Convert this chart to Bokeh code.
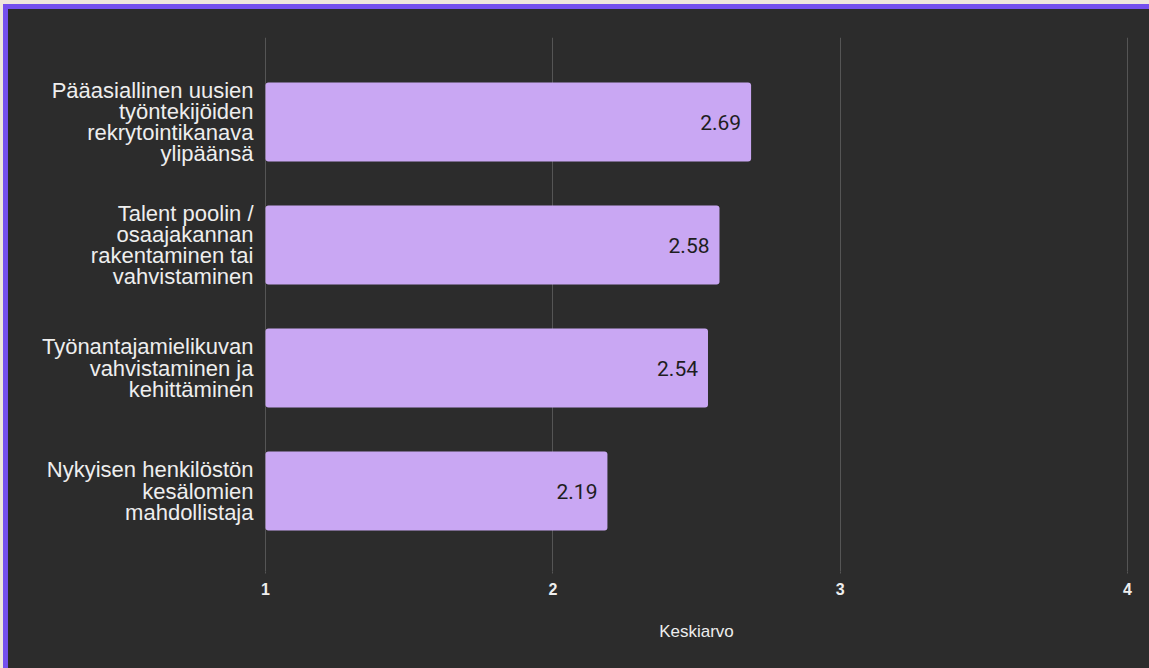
from bokeh.plotting import figure
from bokeh.models import Range1d, FixedTicker, ColumnDataSource, Column
from bokeh.core.properties import value
from bokeh.embed import file_html
from bokeh.resources import INLINE

categories = [
    "Pääasiallinen uusien\ntyöntekijöiden\nrekrytointikanava\nylipäänsä",
    "Talent poolin /\nosaajakannan\nrakentaminen tai\nvahvistaminen",
    "Työnantajamielikuvan\nvahvistaminen ja\nkehittäminen",
    "Nykyisen henkilöstön\nkesälomien\nmahdollistaja",
]
values = [2.69, 2.58, 2.54, 2.19]
value_labels = ["2.69", "2.58", "2.54", "2.19"]
x_ticks = [1, 2, 3, 4]
x_title = "Keskiarvo"

BG = "#2c2c2c"
BAR = "#c9a7f3"
BORDER = "#7550ee"
GRID = "#555555"
FONT = "Liberation Sans"
XPAD = 0.007  # small padding so edge grid lines are not clipped

n = len(categories)
ypos = [n - 1 - i for i in range(n)]  # first category at the top
src = ColumnDataSource(dict(y=ypos, val=values, lab=value_labels))

p = figure(
    width=1146, height=664,
    y_range=Range1d(-0.654, 3.687),
    x_range=Range1d(x_ticks[0] - XPAD, x_ticks[-1] + XPAD),
    output_backend="svg", toolbar_location=None,
    background_fill_color=BG, border_fill_color=BG,
    min_border_left=255, min_border_right=25, min_border_top=28, min_border_bottom=102,
    outline_line_color=None,
)
p.styles = {"margin-left": "3px", "margin-top": "4px", "background-color": BG,
            "border-left": "5px solid " + BORDER, "border-top": "5px solid " + BORDER}

p.hbar(y="y", left=x_ticks[0], right="val", height=0.642, source=src,
       fill_color=BAR, line_color=None, border_radius=3)
p.text(x="val", y="y", text="lab", source=src, x_offset=-10,
       text_align="right", text_baseline="middle", text_color="#1e1e1e",
       text_font=value("Roboto"), text_font_size="21px")

p.xaxis.ticker = FixedTicker(ticks=x_ticks)
p.xaxis.axis_line_color = None
p.xaxis.major_tick_line_color = GRID
p.xaxis.major_tick_out = 2
p.xaxis.major_tick_in = 0
p.xaxis.minor_tick_line_color = None
p.xaxis.major_label_standoff = 9
p.xaxis.major_label_text_color = "#eeeeee"
p.xaxis.major_label_text_font = FONT
p.xaxis.major_label_text_font_size = "16px"
p.xaxis.major_label_text_font_style = "bold"
p.xaxis.axis_label = x_title
p.xaxis.axis_label_text_color = "#eeeeee"
p.xaxis.axis_label_text_font = FONT
p.xaxis.axis_label_text_font_size = "17px"
p.xaxis.axis_label_text_font_style = "normal"
p.xaxis.axis_label_standoff = 24

p.yaxis.ticker = FixedTicker(ticks=ypos)
p.yaxis.major_label_overrides = {y: c for y, c in zip(ypos, categories)}
p.yaxis.axis_line_color = None
p.yaxis.major_tick_line_color = None
p.yaxis.major_tick_out = 0
p.yaxis.major_tick_in = 0
p.yaxis.minor_tick_line_color = None
p.yaxis.minor_tick_out = 0
p.yaxis.major_label_standoff = 10
p.yaxis.major_label_text_color = "#eeeeee"
p.yaxis.major_label_text_font = FONT
p.yaxis.major_label_text_font_size = "22px"
p.yaxis.major_label_text_line_height = 0.85

p.ygrid.grid_line_color = None
p.xgrid.grid_line_color = GRID
p.xgrid.grid_line_width = 1

root = Column(p, styles={"background-color": "#efe7dd"}, width=1149, height=668)
open("out.html", "w").write(file_html(root, INLINE))
